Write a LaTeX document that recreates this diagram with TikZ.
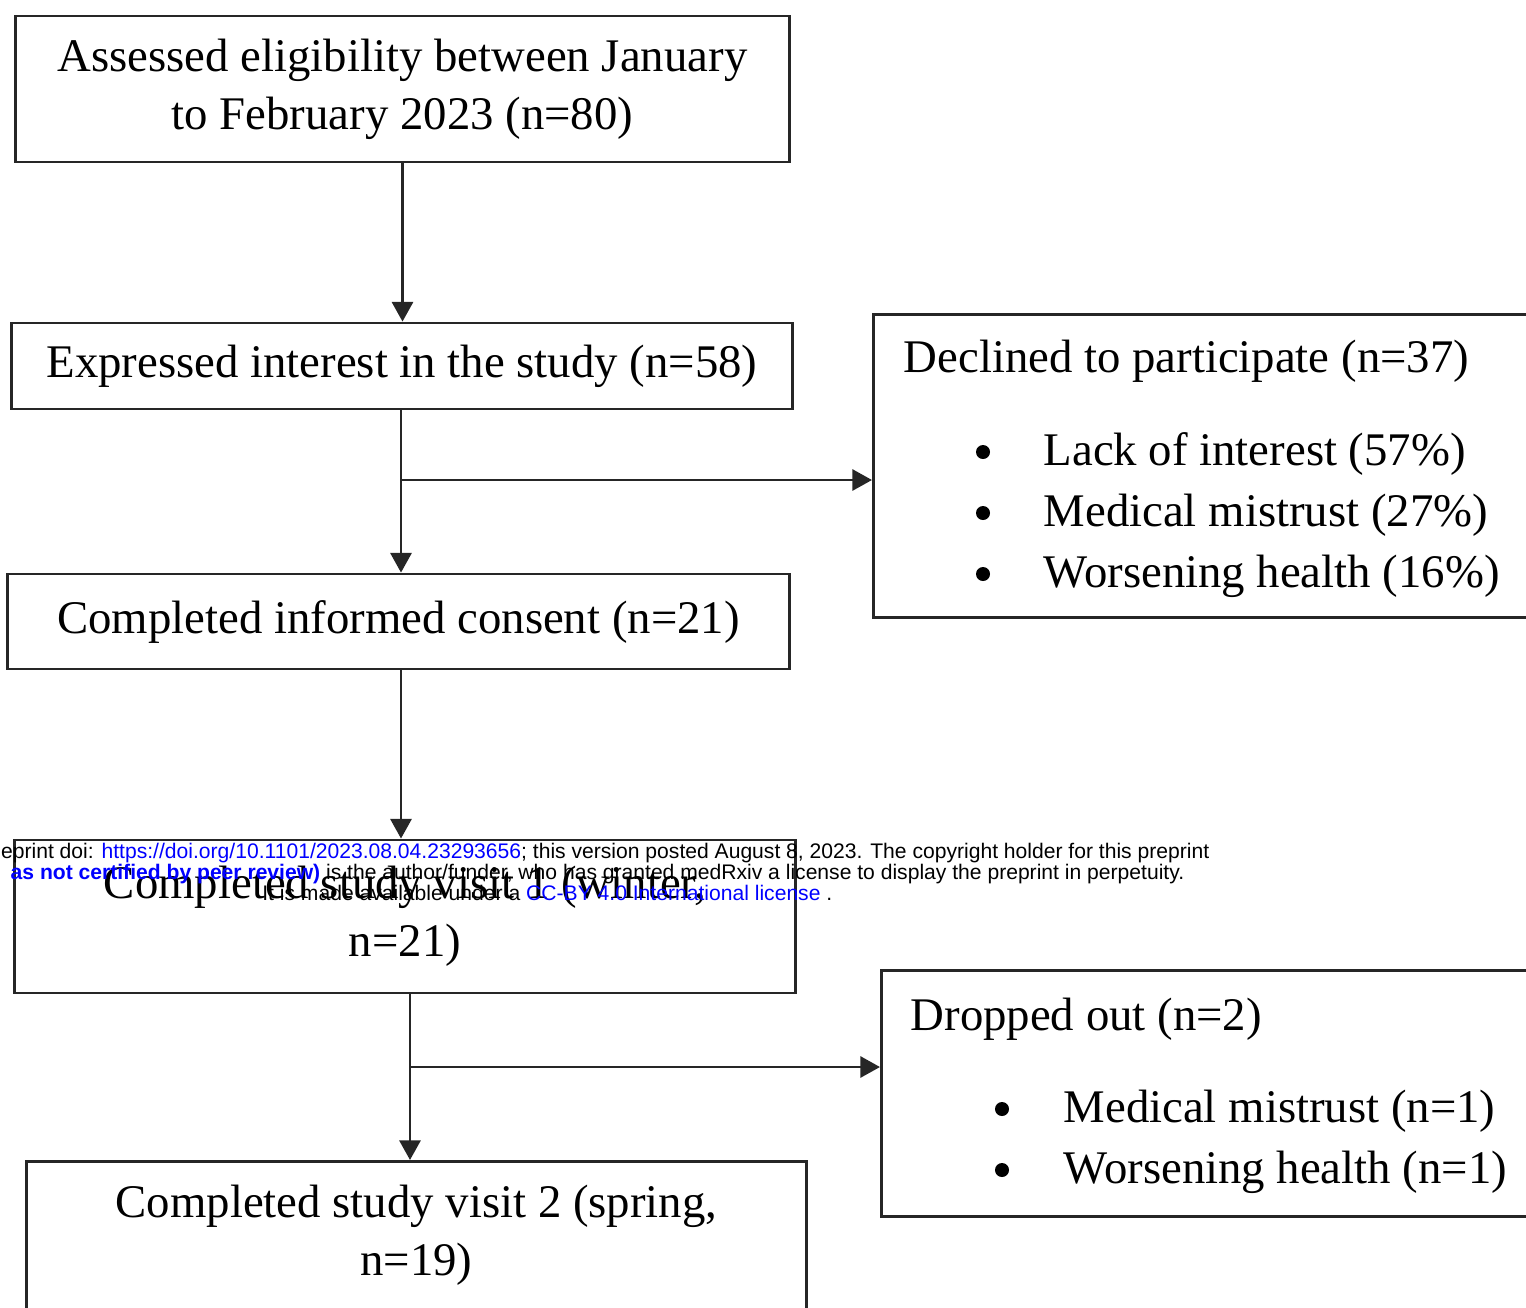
\documentclass[tikz,border=0pt]{standalone}
\usepackage{fontspec}
\setmainfont{Liberation Serif}
\setsansfont{Liberation Sans}
\usepackage{xcolor}
\usetikzlibrary{arrows.meta}
\definecolor{mxblue}{RGB}{0,0,255}

\begin{document}
\begin{tikzpicture}[x=0.01cm,y=-0.01cm,
	box/.style={draw=black!85,line width=0.8pt,fill=white,inner sep=0pt,align=center,
		font=\fontsize{13.3}{16.5}\selectfont},
	txt/.style={inner sep=0pt,font=\fontsize{13.3}{16.5}\selectfont},
	dot/.style={circle,fill=black,inner sep=0pt,minimum size=0.14cm},
	wm/.style={inner sep=0pt,font=\fontsize{6}{6}\sffamily},
	arr/.style={draw=black!85,line width=0.8pt,-{Triangle[length=5.6pt,width=6pt]}}]
			\useasboundingbox (0,0) rectangle (1526,1308);
			% Các hộp chính
			\node[box,minimum width=7.73cm,minimum height=1.46cm] (assessed) at (402.5,89)
			{Assessed eligibility between January\\to February 2023 (n=80)};
			\node[box,minimum width=7.8cm,minimum height=0.86cm] (interest) at (402,366)
			{Expressed interest in the study (n=58)};
			\node[box,minimum width=7.81cm,minimum height=0.95cm] (consent) at (398.5,621.5)
			{Completed informed consent (n=21)};
			\node[box,minimum width=7.8cm,minimum height=1.53cm] (visit1) at (405,916.5)
			{Completed study visit 1 (winter,\\n=21)};
			\node[box,minimum width=7.79cm,minimum height=1.7cm,anchor=north] (visit2) at (416.5,1160) {};
			\node[txt,align=center] (visit2txt) at (416.5,1235) {Completed study visit 2 (spring,\\n=19)};
			% Các hộp bên phải
			\node[box,minimum width=6.68cm,minimum height=3.03cm,anchor=north west] (declined) at (872,313) {};
			\node[txt,anchor=base west] (dtitle) at (903,372) {Declined to participate (n=37)};
			\foreach \y/\t [count=\i] in {465/Lack of interest (57\%),526/Medical mistrust (27\%),587/Worsening health (16\%)}{
				\node[dot] (db\i) at (983,\y-13) {};
				\node[txt,anchor=base west] (dr\i) at (1043,\y) {\t};
			}
			\node[box,minimum width=6.6cm,minimum height=2.46cm,anchor=north west] (dropped) at (880,969) {};
			\node[txt,anchor=base west] (otitle) at (910,1030) {Dropped out (n=2)};
			\foreach \y/\t [count=\i] in {1122/Medical mistrust (n=1),1183/Worsening health (n=1)}{
				\node[dot] (ob\i) at (1002,\y-13) {};
				\node[txt,anchor=base west] (or\i) at (1063,\y) {\t};
			}
			% Mũi tên
			\coordinate (br1) at (401,480);
			\coordinate (br2) at (410,1067);
			\draw[arr] (assessed.south) -- (assessed.south |- interest.north);
			\draw[arr] (br1 |- interest.south) -- (br1 |- consent.north);
			\draw[arr] (br1) -- (declined.west |- br1);
			\draw[arr] (br1 |- consent.south) -- (br1 |- visit1.north);
			\draw[arr] (br2 |- visit1.south) -- (br2 |- visit2.north);
			\draw[arr] (br2) -- (dropped.west |- br2);
			% Dòng chữ medRxiv
			\node[wm,anchor=base east] (wm1) at (1210,858)
			{eprint doi: \textcolor{mxblue}{https://doi.org/10.1101/2023.08.04.23293656}; this version posted August 8, 2023. The copyright holder for this preprint};
			\node[wm,anchor=base east] (wm2) at (1185,879)
			{\textcolor{mxblue}{\bfseries as not certified by peer review)} is the author/funder, who has granted medRxiv a license to display the preprint in perpetuity.};
			\node[wm,anchor=base east] (wm3) at (833,900)
			{It is made available under a \textcolor{mxblue}{CC-BY 4.0 International license} .};
		\end{tikzpicture}
\end{document}
